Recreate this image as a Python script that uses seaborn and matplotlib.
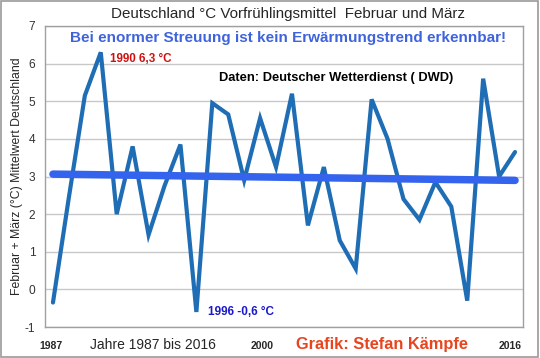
import numpy as np
import pandas as pd
import seaborn as sns
import matplotlib.pyplot as plt
from matplotlib.patches import Rectangle

# Feb + Mar mean temperature, Germany (DWD)
years = list(range(1987, 2017))
temps = [-0.35, 2.45, 5.15, 6.3, 2.0, 3.8, 1.45, 2.75, 3.85, -0.6,
         4.95, 4.65, 2.9, 4.55, 3.25, 5.2, 1.7, 3.25, 1.3, 0.55,
         5.05, 4.0, 2.4, 1.85, 2.85, 2.2, -0.3, 5.6, 3.0, 3.65]
yticks = [-1, 0, 1, 2, 3, 4, 5, 6, 7]

df = pd.DataFrame({"Jahr": years, "Temp": temps})

sns.set_style("white")
plt.rcParams["font.family"] = ["Liberation Sans", "DejaVu Sans"]
plt.rcParams["axes.unicode_minus"] = False

fig = plt.figure(figsize=(5.4, 3.58), dpi=100)
ax = fig.add_axes([45 / 540, 31 / 358, 478 / 540, 301 / 358])

ax.set_yticks(yticks)
ax.yaxis.grid(True, color="#c8c8c8", lw=1)
ax.set_axisbelow(True)

sns.lineplot(data=df, x="Jahr", y="Temp", ax=ax, color="#1f6db5", lw=3,
             solid_joinstyle="miter")

# linear trend
k, d = np.polyfit(df["Jahr"], df["Temp"], 1)
trend = pd.DataFrame({"Jahr": [1987, 2016]})
trend["Temp"] = k * trend["Jahr"] + d
sns.lineplot(data=trend, x="Jahr", y="Temp", ax=ax, color="#3463ee", lw=5.4,
             solid_capstyle="round")

ax.set_xlim(1986.5, 2016.5)
ax.set_ylim(-1, 7)
ax.set_xticks([])
ax.set_xlabel("")
ax.set_ylabel("Februar + März (°C) Mittelwert Deutschland", fontsize=8.8, labelpad=1)
ax.tick_params(axis="y", labelsize=8.6, length=0, pad=7, colors="#333333")
for s in ax.spines.values():
    s.set_color("#a0a0a0")
    s.set_linewidth(1)

fig.text(288 / 540, 1 - 14 / 358, "Deutschland °C Vorfrühlingsmittel  Februar und März",
         ha="center", va="center", fontsize=10.9)
ax.text(288 / 540, 1 - 38 / 358, "Bei enormer Streuung ist kein Erwärmungstrend erkennbar!",
        transform=fig.transFigure, ha="center", va="center", fontsize=11,
        fontweight="bold", color="#3f63dc")
ax.text(1990.55, 6.12, "1990 6,3 °C", ha="left", va="center", fontsize=8.4,
        fontweight="bold", color="#d01010")
ax.text(2004.75, 5.62, "Daten: Deutscher Wetterdienst ( DWD)", ha="center",
        va="center", fontsize=9.3, fontweight="bold", color="black")
ax.text(1996.7, -0.6, "1996 -0,6 °C", ha="left", va="center", fontsize=8.5,
        fontweight="bold", color="#1a1acc")

yb = 1 - 346 / 358
fig.text(51 / 540, yb, "1987", ha="center", va="center", fontsize=7.5, fontweight="bold")
fig.text(153 / 540, yb + 0.003, "Jahre 1987 bis 2016", ha="center", va="center", fontsize=10)
fig.text(262 / 540, yb, "2000", ha="center", va="center", fontsize=7.5, fontweight="bold")
fig.text(382 / 540, yb + 0.003, "Grafik: Stefan Kämpfe", ha="center", va="center",
         fontsize=11.8, fontweight="bold", color="#e8441e")
fig.text(510 / 540, yb, "2016", ha="center", va="center", fontsize=7.5, fontweight="bold")

fig.patches.append(Rectangle((0.002, 0.003), 0.995, 0.993, transform=fig.transFigure,
                             fill=False, edgecolor="#9a9a9a", lw=1.2))

fig.savefig("out.png", dpi=100)
